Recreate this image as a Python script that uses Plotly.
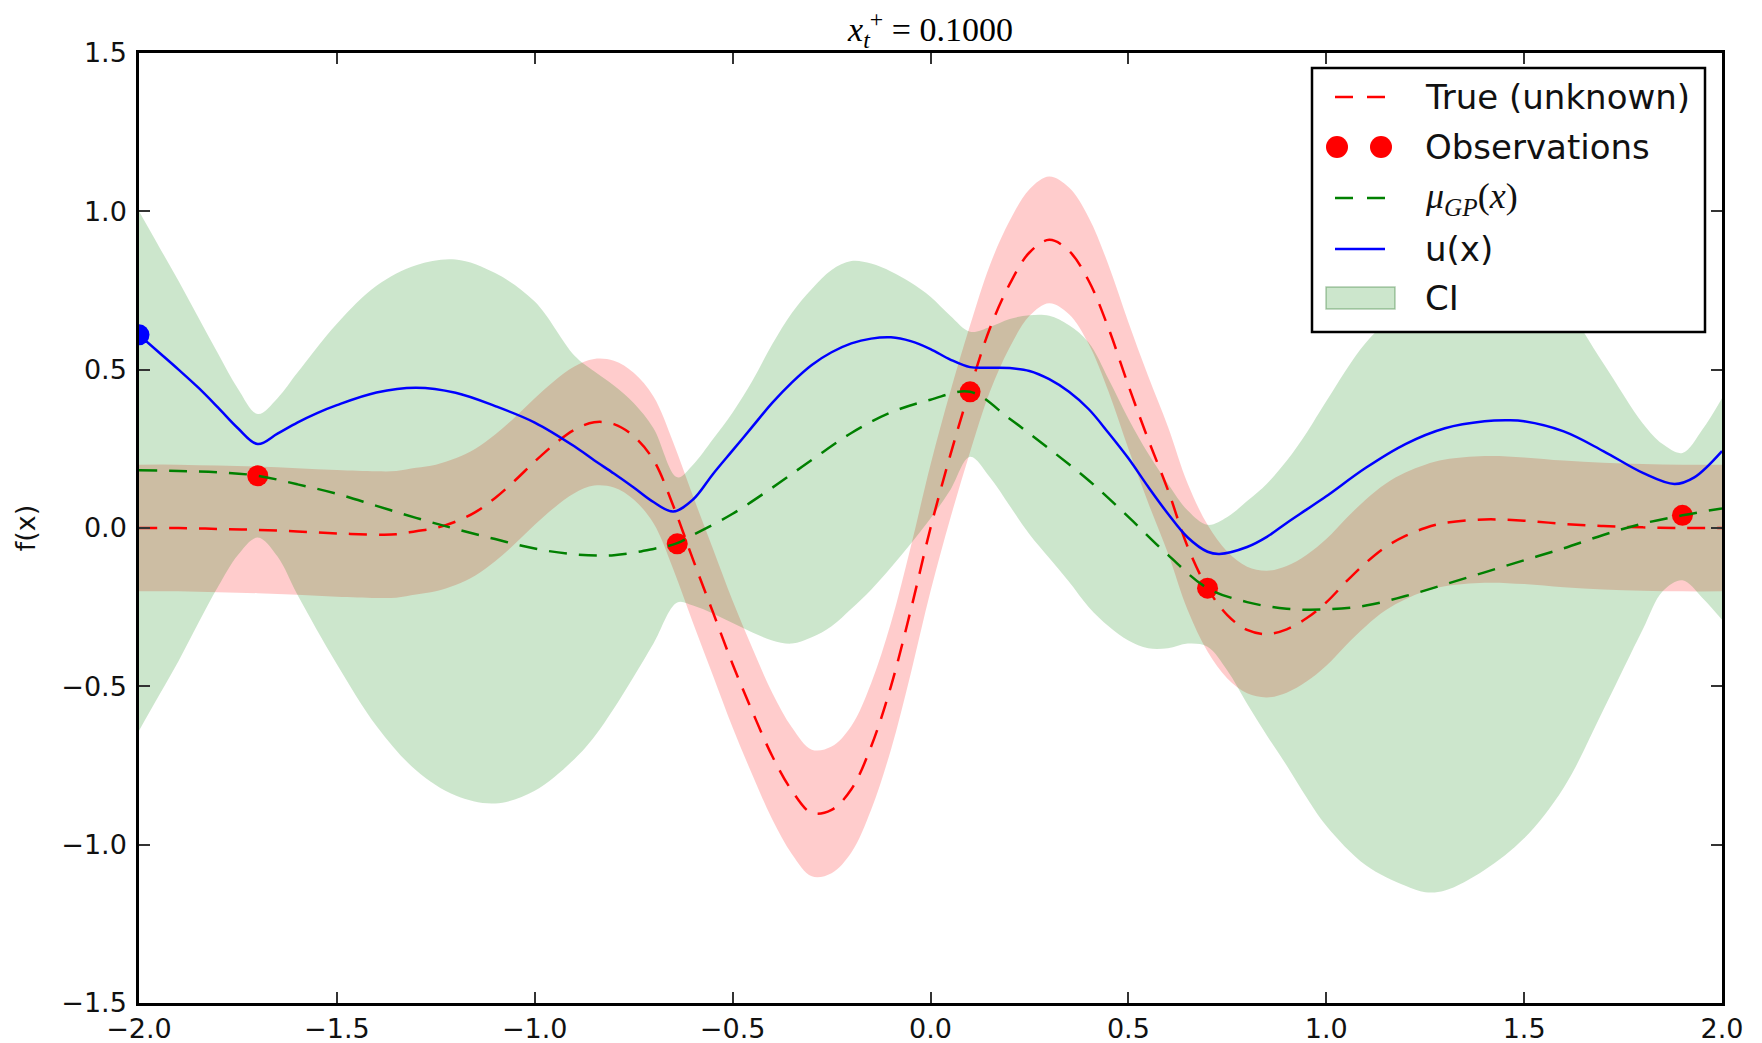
import plotly.graph_objects as go

# ---------------- data ----------------
TRUE_X = [-2.0, -1.9, -1.8, -1.7, -1.6, -1.5, -1.4, -1.35, -1.3, -1.25,
          -1.2, -1.15, -1.1, -1.05, -1.0, -0.95, -0.9, -0.85, -0.8, -0.75,
          -0.7, -0.65, -0.6, -0.55, -0.5, -0.45, -0.4, -0.35, -0.3, -0.25,
          -0.2, -0.15, -0.1, -0.05, 0.0, 0.05, 0.1, 0.15, 0.2, 0.25,
          0.3, 0.35, 0.4, 0.45, 0.5, 0.55, 0.6, 0.65, 0.7, 0.75,
          0.8, 0.85, 0.9, 0.95, 1.0, 1.05, 1.1, 1.15, 1.2, 1.25,
          1.3, 1.4, 1.5, 1.6, 1.7, 1.8, 1.9, 2.0]
TRUE_Y = [0.0, 0.0, -0.003, -0.006, -0.011, -0.017, -0.021, -0.02, -0.01, 0.0,
          0.02, 0.05, 0.095, 0.15, 0.21, 0.265, 0.31, 0.334, 0.328, 0.29,
          0.215, 0.07, -0.1, -0.265, -0.43, -0.58, -0.72, -0.83, -0.9, -0.89,
          -0.825, -0.69, -0.5, -0.26, 0.0, 0.23, 0.44, 0.63, 0.77, 0.87,
          0.91, 0.875, 0.78, 0.63, 0.45, 0.28, 0.12, -0.06, -0.19, -0.275,
          -0.322, -0.335, -0.32, -0.285, -0.235, -0.17, -0.11, -0.06, -0.025, 0.0,
          0.016, 0.027, 0.023, 0.013, 0.006, 0.002, 0.0, 0.0]
NOISE = 0.2  # half-width of the pink band around the true function

OBS_X = [-1.70, -0.64, 0.10, 0.70, 1.90]
OBS_Y = [0.165, -0.05, 0.43, -0.19, 0.04]

MEAN_X = [-2.0, -1.9, -1.8, -1.7, -1.6, -1.5, -1.4, -1.3, -1.2, -1.1,
          -1.0, -0.9, -0.8, -0.7, -0.64, -0.6, -0.5, -0.4, -0.3, -0.2,
          -0.1, 0.0, 0.1, 0.2, 0.3, 0.4, 0.5, 0.6, 0.7, 0.8,
          0.9, 1.0, 1.1, 1.2, 1.3, 1.4, 1.5, 1.6, 1.7, 1.8, 1.9, 2.0]
MEAN_Y = [0.182, 0.18, 0.176, 0.165, 0.138, 0.108, 0.07, 0.032, -0.003, -0.035,
          -0.065, -0.083, -0.086, -0.066, -0.048, -0.022, 0.045, 0.127, 0.215, 0.30,
          0.365, 0.405, 0.43, 0.345, 0.25, 0.15, 0.035, -0.085, -0.19, -0.234,
          -0.255, -0.257, -0.245, -0.215, -0.178, -0.14, -0.102, -0.064, -0.022, 0.014,
          0.04, 0.062]

CI_X = [-2.0, -1.95, -1.9, -1.85, -1.8, -1.75, -1.7, -1.65, -1.6, -1.5,
        -1.4, -1.3, -1.2, -1.1, -1.0, -0.9, -0.85, -0.8, -0.75, -0.7,
        -0.64, -0.6, -0.55, -0.5, -0.45, -0.4, -0.35, -0.3, -0.25, -0.2,
        -0.15, -0.1, -0.05, 0.0, 0.05, 0.1, 0.15, 0.2, 0.25, 0.3,
        0.35, 0.4, 0.45, 0.5, 0.55, 0.6, 0.65, 0.7, 0.75, 0.8,
        0.85, 0.9, 0.95, 1.0, 1.1, 1.2, 1.25, 1.3, 1.4, 1.5,
        1.6, 1.7, 1.8, 1.85, 1.9, 1.95, 2.0]
CI_UPPER = [1.0, 0.89, 0.78, 0.665, 0.55, 0.44, 0.36, 0.41, 0.49, 0.645,
            0.765, 0.83, 0.848, 0.805, 0.715, 0.545, 0.495, 0.45, 0.395, 0.315,
            0.16, 0.2, 0.28, 0.365, 0.465, 0.58, 0.68, 0.755, 0.815, 0.843,
            0.835, 0.81, 0.775, 0.73, 0.67, 0.62, 0.635, 0.66, 0.672, 0.67,
            0.64, 0.585, 0.47, 0.345, 0.235, 0.14, 0.055, 0.01, 0.035, 0.085,
            0.14, 0.212, 0.3, 0.4, 0.585, 0.7, 0.74, 0.77, 0.795, 0.775,
            0.7, 0.52, 0.33, 0.265, 0.237, 0.31, 0.41]
CI_LOWER = [-0.64, -0.53, -0.42, -0.3, -0.185, -0.085, -0.03, -0.09, -0.21, -0.43,
            -0.625, -0.765, -0.845, -0.87, -0.83, -0.73, -0.66, -0.57, -0.47, -0.365,
            -0.235, -0.245, -0.27, -0.3, -0.33, -0.355, -0.365, -0.345, -0.31, -0.255,
            -0.195, -0.125, -0.05, 0.03, 0.12, 0.225, 0.16, 0.07, -0.02, -0.095,
            -0.17, -0.25, -0.31, -0.355, -0.38, -0.38, -0.365, -0.375, -0.45, -0.555,
            -0.655, -0.75, -0.85, -0.94, -1.065, -1.13, -1.15, -1.145, -1.08, -0.98,
            -0.82, -0.575, -0.32, -0.2, -0.165, -0.22, -0.29]

U_X = [-2.0, -1.95, -1.9, -1.85, -1.8, -1.75, -1.7, -1.65, -1.6, -1.55,
       -1.5, -1.4, -1.3, -1.2, -1.1, -1.0, -0.9, -0.85, -0.8, -0.75,
       -0.7, -0.65, -0.6, -0.55, -0.5, -0.45, -0.4, -0.35, -0.3, -0.25,
       -0.2, -0.15, -0.1, -0.05, 0.0, 0.05, 0.1, 0.15, 0.2, 0.25,
       0.3, 0.35, 0.4, 0.45, 0.5, 0.55, 0.6, 0.65, 0.7, 0.73,
       0.8, 0.85, 0.9, 0.95, 1.0, 1.1, 1.2, 1.3, 1.4, 1.46,
       1.5, 1.6, 1.7, 1.8, 1.88, 1.93, 2.0]
U_Y = [0.61, 0.555, 0.5, 0.443, 0.38, 0.315, 0.265, 0.298, 0.333, 0.363,
       0.388, 0.428, 0.443, 0.427, 0.385, 0.333, 0.258, 0.214, 0.172, 0.128,
       0.082, 0.052, 0.09, 0.17, 0.245, 0.32, 0.395, 0.46, 0.515, 0.555,
       0.583, 0.598, 0.602, 0.59, 0.565, 0.532, 0.508, 0.506, 0.505, 0.496,
       0.47, 0.43, 0.375, 0.3, 0.22, 0.13, 0.045, -0.03, -0.075, -0.082,
       -0.06, -0.028, 0.016, 0.058, 0.1, 0.19, 0.265, 0.315, 0.337, 0.34,
       0.337, 0.305, 0.243, 0.174, 0.139, 0.16, 0.243]

BEST_X = [-2.0]
BEST_Y = [0.61]

X_TICKS = [-2.0, -1.5, -1.0, -0.5, 0.0, 0.5, 1.0, 1.5, 2.0]
Y_TICKS = [-1.5, -1.0, -0.5, 0.0, 0.5, 1.0, 1.5]

TITLE = "<i>x</i><sub><i>t</i></sub><sup>+</sup> = 0.1000"
LEGEND_LABELS = ["True (unknown)", "Observations",
                 "<i>μ</i><sub><i>GP</i></sub>(<i>x</i>)", "u(x)", "CI"]

# ---------------- styles ----------------
RED = "#ff0000"
GREEN = "#008000"
BLUE = "#0000ff"
SANS = "DejaVu Sans"
SERIF = "Liberation Serif"
DASH = "18px,12px"
LW = 2.5
W, H = 1762, 1043
ML, MR, MT, MB = 139, 40, 53, 40
PW, PH = W - ML - MR, H - MT - MB


def px(xp):
    return (xp - ML) / PW


def py(yp):
    return (H - MB - yp) / PH


fig = go.Figure()

# pink band around the true function
fig.add_trace(go.Scatter(x=TRUE_X, y=[v - NOISE for v in TRUE_Y], mode="lines",
                         line=dict(width=0, shape="spline", color="rgba(255,0,0,0)"),
                         showlegend=False, hoverinfo="skip"))
fig.add_trace(go.Scatter(x=TRUE_X, y=[v + NOISE for v in TRUE_Y], mode="lines",
                         line=dict(width=0, shape="spline", color="rgba(255,0,0,0)"),
                         fill="tonexty", fillcolor="rgba(255,0,0,0.2)",
                         showlegend=False, hoverinfo="skip"))

# GP confidence interval
fig.add_trace(go.Scatter(x=CI_X, y=CI_LOWER, mode="lines",
                         line=dict(width=0, shape="spline", color="rgba(0,128,0,0)"),
                         showlegend=False, hoverinfo="skip"))
fig.add_trace(go.Scatter(x=CI_X, y=CI_UPPER, mode="lines", name="CI",
                         line=dict(width=0, shape="spline", color="rgba(0,128,0,0)"),
                         fill="tonexty", fillcolor="rgba(0,128,0,0.2)",
                         showlegend=False))

# true function
fig.add_trace(go.Scatter(x=TRUE_X, y=TRUE_Y, mode="lines", name="True (unknown)",
                         line=dict(color=RED, width=LW, dash=DASH, shape="spline"),
                         showlegend=False))
# observations
fig.add_trace(go.Scatter(x=OBS_X, y=OBS_Y, mode="markers", name="Observations",
                         marker=dict(color=RED, size=21, line=dict(width=0)),
                         showlegend=False))
# GP mean
fig.add_trace(go.Scatter(x=MEAN_X, y=MEAN_Y, mode="lines", name="mu_GP(x)",
                         line=dict(color=GREEN, width=LW, dash=DASH, shape="spline"),
                         showlegend=False))
# acquisition u(x)
fig.add_trace(go.Scatter(x=U_X, y=U_Y, mode="lines", name="u(x)",
                         line=dict(color=BLUE, width=LW, shape="spline"),
                         showlegend=False))
fig.add_trace(go.Scatter(x=BEST_X, y=BEST_Y, mode="markers",
                         marker=dict(color=BLUE, size=21, line=dict(width=0)),
                         showlegend=False))

# ---------------- legend (matplotlib-style box) ----------------
LEG_BOX = (1312, 68, 1705, 332)          # left, top, right, bottom (px)
LEG_ROWS = [97, 147, 198, 249, 298]      # row centres (px)
SAMPLE_X = (1335, 1385)
TEXT_X = 1423

shapes = [dict(type="rect", xref="paper", yref="paper", layer="above",
               x0=px(LEG_BOX[0]), x1=px(LEG_BOX[2]),
               y0=py(LEG_BOX[3]), y1=py(LEG_BOX[1]),
               fillcolor="white", line=dict(color="black", width=2.5))]


def hline(yrow, color, dash):
    return dict(type="line", xref="paper", yref="paper", layer="above",
                x0=px(SAMPLE_X[0]), x1=px(SAMPLE_X[1]), y0=py(yrow), y1=py(yrow),
                line=dict(color=color, width=LW, dash=dash))


shapes.append(hline(LEG_ROWS[0], RED, "18px,14px"))
for cx in (1337, 1381):
    r = 11
    shapes.append(dict(type="circle", xref="paper", yref="paper", layer="above",
                       x0=px(cx - r), x1=px(cx + r),
                       y0=py(LEG_ROWS[1] + r), y1=py(LEG_ROWS[1] - r),
                       fillcolor=RED, line=dict(width=0)))
shapes.append(hline(LEG_ROWS[2], GREEN, "18px,14px"))
shapes.append(hline(LEG_ROWS[3], BLUE, "solid"))
shapes.append(dict(type="rect", xref="paper", yref="paper", layer="above",
                   x0=px(1326), x1=px(1395), y0=py(LEG_ROWS[4] + 11), y1=py(LEG_ROWS[4] - 11),
                   fillcolor="rgba(0,128,0,0.2)", line=dict(color="rgba(0,90,0,0.3)", width=1.5)))

annotations = []
for i, (lab, yrow) in enumerate(zip(LEGEND_LABELS, LEG_ROWS)):
    fam = SERIF if i == 2 else SANS
    size = 36 if i == 2 else 34
    annotations.append(dict(text=lab, xref="paper", yref="paper",
                            x=px(TEXT_X), y=py(yrow), xanchor="left", yanchor="middle",
                            showarrow=False, font=dict(family=fam, size=size, color="#111111")))

axis_common = dict(
    showgrid=False, zeroline=False, automargin=False,
    showline=True, linecolor="black", linewidth=2.5, mirror="ticks",
    ticks="inside", ticklen=11, tickwidth=1.5, tickcolor="#333333",
    tickfont=dict(family=SANS, size=27, color="#111111"),
)

fig.update_layout(
    width=W, height=H,
    margin=dict(l=ML, r=MR, t=MT, b=MB, autoexpand=False),
    paper_bgcolor="white", plot_bgcolor="white",
    title=dict(text=TITLE, x=0.5, xref="paper", xanchor="center",
               y=1 - 29 / H, yref="container", yanchor="middle", automargin=False,
               font=dict(family=SERIF, size=34, color="black")),
    xaxis=dict(range=[-2, 2], tickvals=X_TICKS, tickformat=".1f",
               ticklabelstandoff=0, **axis_common),
    yaxis=dict(range=[-1.5, 1.5], tickvals=Y_TICKS, tickformat=".1f",
               ticklabelstandoff=4,
               title=dict(text="f(x)", font=dict(family=SANS, size=27, color="#111111"),
                          standoff=18),
               **axis_common),
    shapes=shapes,
    annotations=annotations,
    showlegend=False,
)

fig.write_html("out.html")
